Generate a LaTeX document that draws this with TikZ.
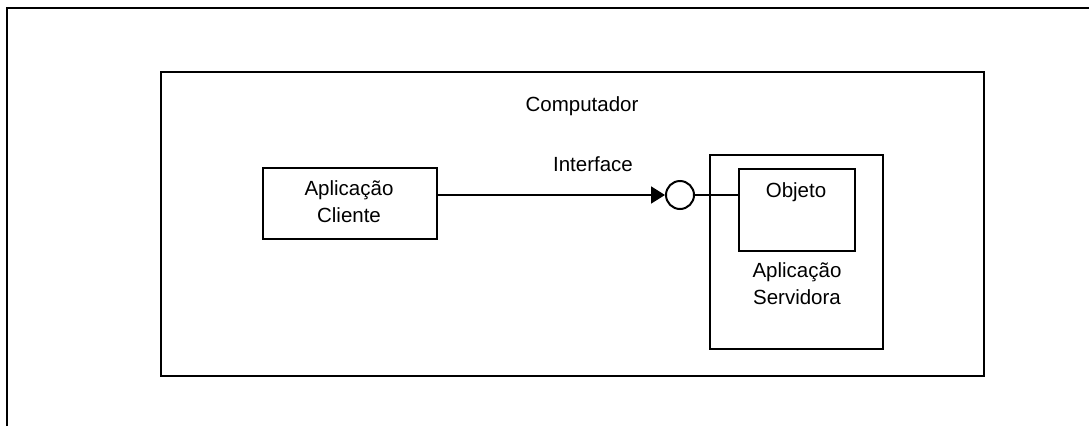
\documentclass[tikz,border=0pt]{standalone}
\usepackage{fontspec}
\setmainfont{Liberation Sans}
\usetikzlibrary{arrows.meta}
\begin{document}
\begin{tikzpicture}[x=1pt,y=-1pt,
  lbl/.style={font=\fontsize{20.5}{27}\selectfont, align=center, inner sep=0pt},
  boxline/.style={draw, line width=2.2pt},
  framebox/.style={boxline, inner sep=0pt, anchor=north west},
]
\useasboundingbox (0,0) rectangle (1089,426);
% outer frame (only top and left edges visible)
\coordinate (fbl) at (7,426);
\coordinate (ftl) at (7,8);
\coordinate (ftr) at (1089,8);
\draw[line width=2.8pt] (fbl) -- (ftl) -- (ftr);
% Computador
\node[framebox, minimum width=823pt, minimum height=304pt] (comp) at (160,71) {};
\node[lbl] (complbl) at (582,106) {Computador};
% Aplicacao Cliente
\node[framebox, minimum width=174pt, minimum height=71pt] (cli) at (262,167) {};
\node[lbl] (clilbl) at (349,202) {Aplicação\\Cliente};
% Servidora
\node[framebox, minimum width=173pt, minimum height=194pt] (srv) at (709,154) {};
\node[framebox, minimum width=116pt, minimum height=82pt] (obj) at (738,168) {};
\node[lbl] (objlbl) at (796,192) {Objeto};
\node[lbl] (srvlbl) at (797,284) {Aplicação\\Servidora};
% interface
\node[draw, circle, line width=2pt, minimum size=28pt, inner sep=0pt] (iface) at (680,195) {};
\node[lbl] (ifacelbl) at (593,164) {Interface};
\draw[line width=1.8pt, -{Triangle[length=14pt, width=17pt]}] (cli.east |- iface.west) -- (iface.west);
\draw[line width=1.8pt] (iface.east) -- (iface.east -| obj.west);
\end{tikzpicture}
\end{document}
